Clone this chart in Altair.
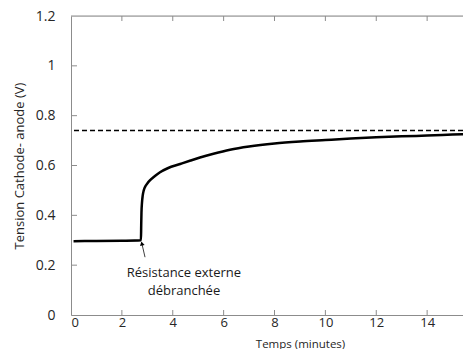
import altair as alt
import pandas as pd

# data
t_curve = [0.1, 1.0, 2.0, 2.75, 2.76, 2.77, 2.79, 2.82, 2.86, 2.91, 3.0, 3.11, 3.3, 3.5, 3.8,
           4.29, 4.7, 5.07, 5.6, 6.25, 7.0, 8.0, 9.0, 10.0, 11.0, 12.0, 13.0, 14.0, 15.0, 15.75]
v_curve = [0.296, 0.297, 0.298, 0.300, 0.36, 0.41, 0.45, 0.48, 0.50, 0.514, 0.528, 0.541, 0.558, 0.573, 0.589,
           0.606, 0.620, 0.632, 0.647, 0.663, 0.676, 0.688, 0.696, 0.702, 0.708, 0.713, 0.717, 0.720, 0.724, 0.727]
asymptote = 0.74
x_ticks = [0, 2, 4, 6, 8, 10, 12, 14]
y_ticks = [0, 0.2, 0.4, 0.6, 0.8, 1.0, 1.2]
annot_lines = ["Résistance externe", "débranchée"]
annot_t = [4.44, 4.44]
annot_v = [0.1675, 0.0966]
arrow_t = [2.91, 2.785]
arrow_v = [0.232, 0.287]

W, H = 392, 299
XMAX = 15.41
FONT = "Open Sans"
AXC = "#8c8c8c"
TXT = "#262626"

xs = alt.Scale(domain=[0, XMAX], nice=False, zero=False)
ys = alt.Scale(domain=[0, 1.2], nice=False)

curve_df = pd.DataFrame({"t": t_curve, "v": v_curve})

base_axis_x = alt.Axis(values=x_ticks, title="Temps (minutes)", grid=False, ticks=False,
                       domainColor=AXC, labelColor=TXT, labelFontSize=13, labelFont=FONT,
                       labelPadding=1, titleFont=FONT, titleFontSize=11.5, titleFontWeight="normal",
                       titleColor=TXT, titleY=32, titleBaseline="alphabetic", titleX=229,
                       titleAlign="center", format="d")
base_axis_y = alt.Axis(values=y_ticks, title="Tension Cathode- anode (V)", grid=False, ticks=False,
                       domainColor=AXC, labelColor=TXT, labelFontSize=14, labelFont=FONT,
                       labelPadding=16, titleFont=FONT, titleFontSize=13, titleFontWeight="normal",
                       titleColor=TXT, titlePadding=9,
                       labelExpr="datum.value == 0 ? '0' : (datum.value == 1 ? '1' : format(datum.value, '.1f'))")

curve = alt.Chart(curve_df).mark_line(color="black", strokeWidth=2.5, interpolate="monotone",
                                      clip=True).encode(
    x=alt.X("t:Q", scale=xs, axis=base_axis_x),
    y=alt.Y("v:Q", scale=ys, axis=base_axis_y),
)

dash = alt.Chart(pd.DataFrame({"v": [asymptote]})).mark_rule(
    color="black", strokeWidth=1.5, strokeDash=[5, 3]).encode(
    y=alt.Y("v:Q", scale=ys))

top_line = alt.Chart(pd.DataFrame({"v": [1.2]})).mark_rule(color=AXC, strokeWidth=1).encode(
    y=alt.Y("v:Q", scale=ys))

xt_df = pd.DataFrame({"t": x_ticks[1:]})
bottom_ticks = alt.Chart(xt_df).mark_rule(color=AXC, strokeWidth=1).encode(
    x=alt.X("t:Q", scale=xs), y=alt.value(H), y2=alt.value(H - 5))
top_ticks = alt.Chart(xt_df).mark_rule(color=AXC, strokeWidth=1).encode(
    x=alt.X("t:Q", scale=xs), y=alt.value(0), y2=alt.value(5))
yt_df = pd.DataFrame({"v": y_ticks[1:-1]})
left_ticks = alt.Chart(yt_df).mark_rule(color=AXC, strokeWidth=1).encode(
    y=alt.Y("v:Q", scale=ys), x=alt.value(0), x2=alt.value(6))

arrow_df = pd.DataFrame({"t": arrow_t, "v": arrow_v, "o": [0, 1]})
arrow_line = alt.Chart(arrow_df).mark_line(color="#404040", strokeWidth=1).encode(
    x=alt.X("t:Q", scale=xs), y=alt.Y("v:Q", scale=ys), order="o:Q")
arrow_head = alt.Chart(arrow_df.iloc[[1]]).mark_point(
    shape="triangle-up", filled=True, color="black", size=22, angle=346, opacity=1).encode(
    x=alt.X("t:Q", scale=xs), y=alt.Y("v:Q", scale=ys))

annot = alt.Chart(pd.DataFrame({"t": annot_t, "v": annot_v, "txt": annot_lines})).mark_text(
    font=FONT, fontSize=13, color="#1a1a1a", align="center", baseline="middle").encode(
    x=alt.X("t:Q", scale=xs), y=alt.Y("v:Q", scale=ys), text="txt:N")

chart = alt.layer(top_line, dash, curve, bottom_ticks, top_ticks, left_ticks,
                  arrow_line, arrow_head, annot).properties(
    width=W, height=H,
    autosize=alt.AutoSizeParams(type="none"),
    padding={"left": 63, "top": 8, "right": 0, "bottom": 34},
).configure_view(stroke=None).configure(background="white")

chart.save("out.html", embed_options={"renderer": "svg", "actions": False})
